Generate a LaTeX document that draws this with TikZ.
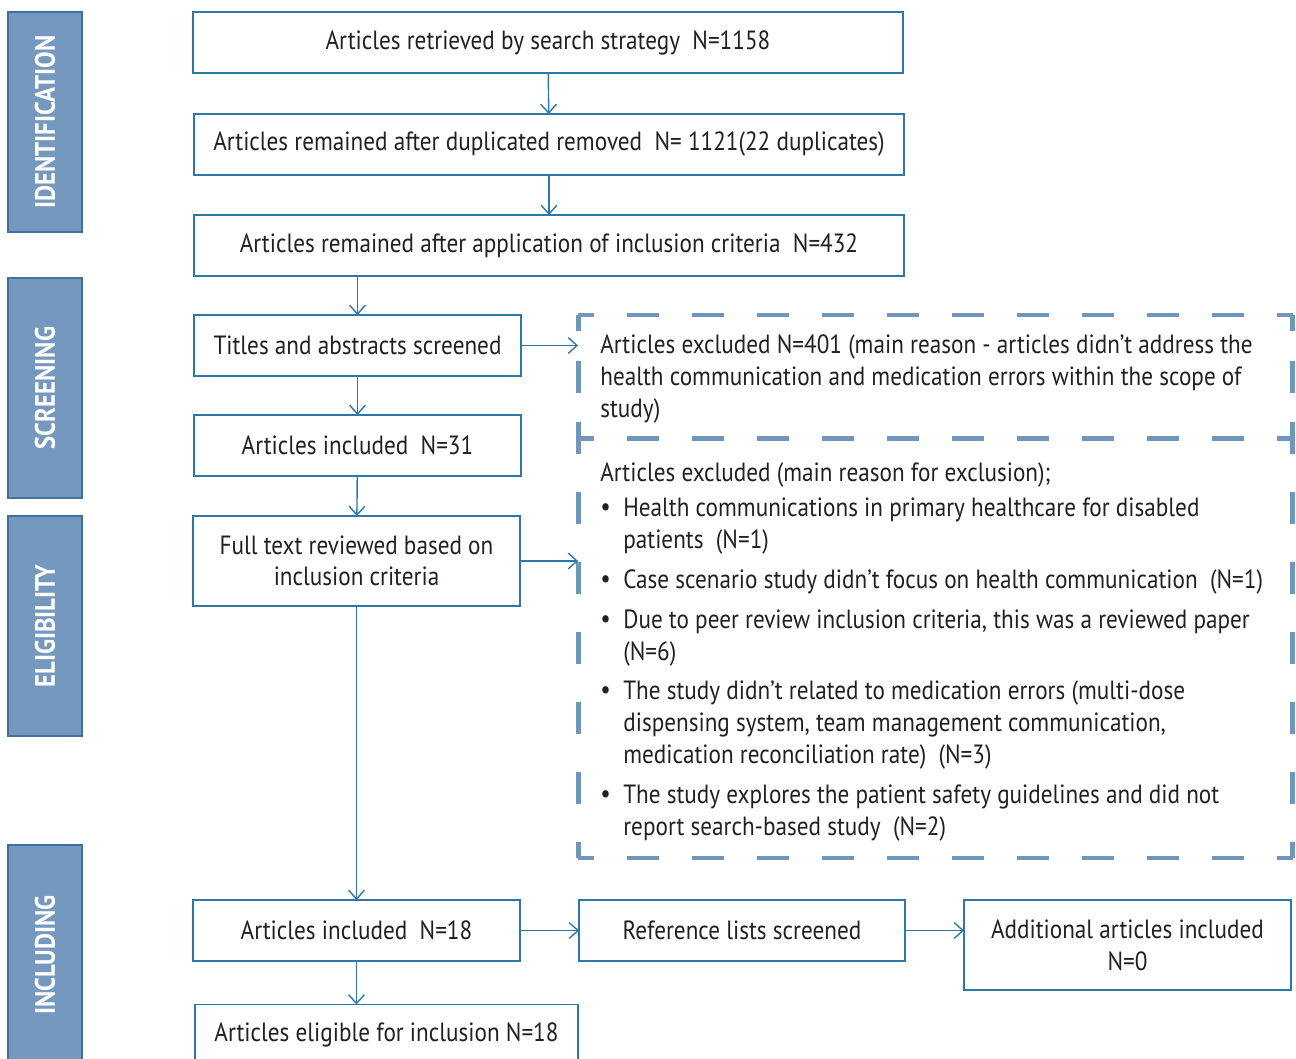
\documentclass[tikz,border=0pt]{standalone}
\usepackage{fontspec}
\setmainfont{PT Sans}[FakeStretch=0.88]
\usetikzlibrary{arrows.meta}

\definecolor{boxline}{RGB}{46,120,168}
\definecolor{bandfill}{RGB}{117,153,190}
\definecolor{bandline}{RGB}{62,112,160}
\definecolor{dashline}{RGB}{112,150,189}
\definecolor{ink}{RGB}{35,31,32}

\begin{document}
\begin{tikzpicture}[x=0.02cm,y=-0.02cm,
  >={Straight Barb[length=5pt,width=9pt]},
  flow/.style={->,draw=boxline,line width=0.8pt},
  stage box/.style={rectangle,draw=boxline,line width=0.8pt,fill=white,text=ink,
    font=\fontsize{15}{18}\selectfont,align=center,inner sep=0pt,outer sep=0pt,
    minimum height=1.22cm},
  band/.style={rectangle,draw=bandline,line width=1pt,fill=bandfill,text=white,
    font=\fontsize{16}{18}\selectfont\bfseries,rotate=90,
    minimum width=4.4cm,minimum height=1.48cm,inner sep=0pt},
  excl box/.style={rectangle,inner sep=0pt,outer sep=0pt,minimum width=14.3cm},
  excl text/.style={anchor=west,inner sep=0pt,text=ink,align=left,
    font=\fontsize{15}{18}\selectfont},
  dash line/.style={draw=dashline,line width=2.8pt,line cap=butt}]
  \useasboundingbox (0,0) rectangle (1296,1059);

  % stage bands
  \node[band] (idband) at (45,122) {IDENTIFICATION};
  \node[band] (scrband) at (45,388) {SCREENING};
  \node[band] (eliband) at (45,626) {ELIGIBILITY};
  \node[band] (incband) at (45,955) {INCLUDING};

  % main flow
  \node[stage box,minimum width=14.2cm] (retrieved) at (548,42.5)
    {Articles retrieved by search strategy~ N=1158};
  \node[stage box,minimum width=14.2cm] (dedup) at (549,144.5)
    {Articles remained after duplicated removed~ N= 1121(22 duplicates)};
  \node[stage box,minimum width=14.2cm] (criteria) at (549,245.5)
    {Articles remained after application of inclusion criteria~ N=432};
  \node[stage box,minimum width=6.54cm] (titles) at (357.5,345.5)
    {Titles and abstracts screened};
  \node[stage box,minimum width=6.54cm] (incl31) at (357.5,445.5)
    {Articles included~ N=31};
  \node[stage box,minimum width=6.54cm,minimum height=1.8cm] (fulltext) at (356.5,561)
    {Full text reviewed based on\\inclusion criteria};
  \node[stage box,minimum width=6.54cm] (incl18) at (356.5,930.5)
    {Articles included~ N=18};
  \node[stage box,minimum width=7.66cm] (eligible) at (386.5,1035)
    {Articles eligible for inclusion N=18};
  \node[stage box,minimum width=6.52cm] (reflists) at (742,930.5)
    {Reference lists screened};
  \node[stage box,minimum width=6.54cm,minimum height=1.8cm] (additional) at (1127.5,945)
    {Additional articles included\\N=0};

  % exclusion boxes
  \node[excl box,minimum height=2.46cm] (exclA) at (935.5,376.5) {};
  \node[excl box,minimum height=8.4cm] (exclB) at (935.5,648) {};

  \draw[dash line,dash pattern=on 0.64cm off 0.66cm,dash phase=0.32cm]
    (exclA.north west) -- (exclA.north east);
  \draw[dash line,dash pattern=on 0.64cm off 0.59cm,dash phase=0.32cm]
    (exclA.north west) -- (exclA.south west);
  \draw[dash line,dash pattern=on 0.64cm off 0.59cm,dash phase=0.32cm]
    (exclA.north east) -- (exclA.south east);
  \draw[dash line,dash pattern=on 0.64cm off 0.66cm,dash phase=0.32cm]
    (exclB.north west) -- (exclB.north east);
  \draw[dash line,dash pattern=on 0.64cm off 0.66cm,dash phase=0.32cm]
    (exclB.south west) -- (exclB.south east);
  \draw[dash line,dash pattern=on 0.64cm off 0.76cm,dash phase=0.32cm]
    (exclB.north west) -- (exclB.south west);
  \draw[dash line,dash pattern=on 0.64cm off 0.76cm,dash phase=0.32cm]
    (exclB.north east) -- (exclB.south east);

  \node[excl text] (reasonA) at (600,379)
    {Articles excluded N=401 (main reason - articles didn’t address the\\
     health communication and medication errors within the scope of\\study)};
  \node[excl text] (reasonB) at (600,475) {Articles excluded (main reason for exclusion);};
  \node[excl text] (dot1) at (600,510) {\textbullet};
  \node[excl text] (item1) at (623,526)
    {Health communications in primary healthcare for disabled\\patients~ (N=1)};
  \node[excl text] (dot2) at (600,582) {\textbullet};
  \node[excl text] (item2) at (623,582)
    {Case scenario study didn’t focus on health communication~ (N=1)};
  \node[excl text] (dot3) at (600,622) {\textbullet};
  \node[excl text] (item3) at (623,638)
    {Due to peer review inclusion criteria, this was a reviewed paper\\(N=6)};
  \node[excl text] (dot4) at (600,693) {\textbullet};
  \node[excl text] (item4) at (623,725)
    {The study didn’t related to medication errors (multi-dose\\
     dispensing system, team management communication,\\
     medication reconciliation rate)~ (N=3)};
  \node[excl text] (dot5) at (600,797) {\textbullet};
  \node[excl text] (item5) at (623,813)
    {The study explores the patient safety guidelines and did not\\
     report search-based study~ (N=2)};

  % connectors
  \draw[flow] (retrieved) -- (dedup);
  \draw[flow] (dedup) -- (criteria);
  \draw[flow] (criteria.south -| titles.north) -- (titles);
  \draw[flow] (titles) -- (incl31);
  \draw[flow] (incl31) -- (fulltext);
  \draw[flow] (fulltext) -- (incl18);
  \draw[flow] (incl18.south) -- (incl18.south |- eligible.north);
  \draw[flow] (titles.east) -- (titles.east -| exclA.west);
  \draw[flow] (fulltext.east) -- (fulltext.east -| exclB.west);
  \draw[flow] (incl18) -- (reflists);
  \draw[flow] (reflists.east) -- (reflists.east -| additional.west);
\end{tikzpicture}
\end{document}
